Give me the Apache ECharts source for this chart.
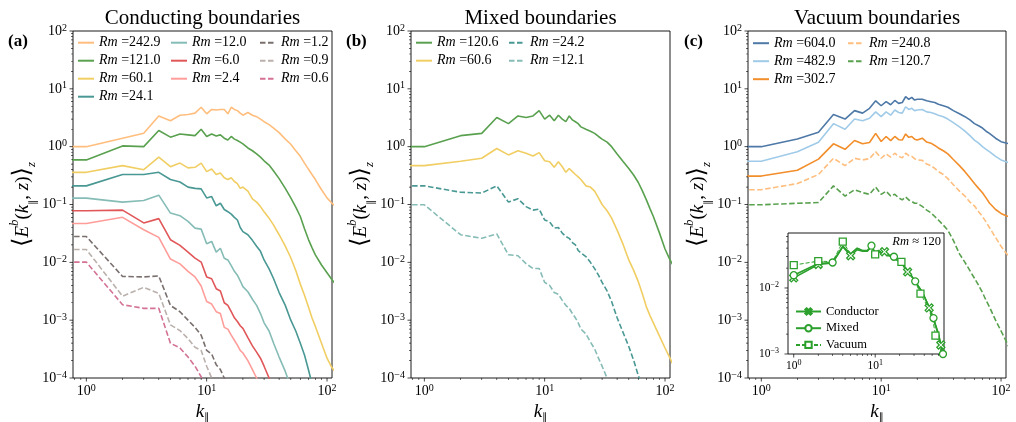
<!DOCTYPE html>
<html><head><meta charset="utf-8">
<script src="https://cdn.jsdelivr.net/npm/echarts@6/dist/echarts.min.js"></script>
<style>html,body{margin:0;padding:0;background:#fff}#c{width:1016px;height:422px}</style>
</head><body><div id="c"></div>
<script>
// ---------------- DATA ----------------
// wavenumbers k_parallel shared by all main-panel curves
const K = [0.5,1,2,3,4,5,6,7,8,9,10,11,12,13,14,15,16,17,18,19,20,22,24,26,28,30,33,36,40,45,50,55,60,65,70,75,80,90,100,110,120];

// Panel (a) Conducting boundaries
const A_RM = ['242.9','121.0','60.1','24.1','12.0','6.0','2.4','1.2','0.9','0.6'];
const A_242_9 = [1.0,1.0,1.4,1.7,3.4,2.8,3.5,3.6,3.8,4.8, 3.7,4.4,4.3,4.4,4.4,3.7,4.8,4.4,4.2,3.8, 3.5,3.9,3.5,3.3,3.0,2.7,2.4,2.1,1.75,1.35, 1.1,0.85,0.68,0.52,0.41,0.33,0.27,0.18,0.13,0.105,0.09];
const A_121_0 = [0.59,0.59,1.03,1.0,1.9,1.46,1.66,1.6,1.55,2.0, 1.5,1.66,1.53,1.6,1.4,1.3,1.5,1.35,1.28,1.2, 1.12,0.95,0.85,0.75,0.66,0.57,0.48,0.38,0.28,0.19, 0.13,0.09,0.062,0.038,0.025,0.018,0.0135,0.009,0.0066,0.005,0.004];
const A_60_1 = [0.36,0.36,0.47,0.40,0.66,0.45,0.52,0.43,0.44,0.52, 0.37,0.41,0.33,0.35,0.29,0.27,0.29,0.25,0.23,0.19, 0.2,0.17,0.125,0.11,0.092,0.075,0.058,0.044,0.03,0.019, 0.012,0.0072,0.0042,0.0027,0.0017,0.0011,0.00078,0.0004,0.00022,0.00015,0.00012];
const A_24_1 = [0.21,0.21,0.33,0.33,0.36,0.27,0.245,0.2,0.19,0.186, 0.13,0.137,0.095,0.105,0.082,0.075,0.068,0.06,0.054,0.04, 0.034,0.03,0.024,0.019,0.0155,0.011,0.0077,0.0052,0.003,0.0018, 0.001,0.00065,0.0004,0.00025,0.00014,0.00008,0.00005];
const A_12_0 = [0.129,0.129,0.11,0.117,0.145,0.071,0.064,0.051,0.039,0.0375, 0.021,0.023,0.015,0.0175,0.0118,0.011,0.0088,0.007,0.006,0.0048, 0.0038,0.0031,0.0023,0.0018,0.0013,0.0009,0.00065,0.0004,0.00023,0.00013, 0.00007];
const A_6_0 = [0.078,0.078,0.08,0.048,0.057,0.0246,0.0196,0.015,0.0118,0.0101, 0.0056,0.0052,0.0035,0.0032,0.002,0.0018,0.0014,0.0011,0.00095,0.0008, 0.00072,0.0005,0.00036,0.00028,0.00022,0.00016,0.0001,0.00007];
const A_2_4 = [0.047,0.047,0.06,0.0366,0.027,0.0114,0.0094,0.007,0.0056,0.0039, 0.0021,0.0019,0.0014,0.0013,0.00075,0.0007,0.00055,0.00045,0.00037,0.0003, 0.00027,0.0002,0.00014,0.0001,0.00007];
const A_1_2 = [0.028,0.028,0.0057,0.0056,0.0058,0.0018,0.0014,0.001,0.00075,0.00055, 0.0003,0.00026,0.00017,0.00014,0.0001,0.00007];
const A_0_9 = [0.0167,0.0167,0.0026,0.0037,0.0029,0.00083,0.00066,0.00048,0.00034,0.0003, 0.00016,0.0001,0.00007];
const A_0_6 = [0.0101,0.0101,0.00185,0.0016,0.0016,0.0004,0.00033,0.00023,0.00016,0.000105, 0.00007];

// Panel (b) Mixed boundaries
const B_RM = ['120.6','60.6','24.2','12.1'];
const B_120_6 = [1.0,1.0,1.55,1.7,3.2,2.5,3.4,3.2,3.4,4.2, 3.0,3.5,2.8,3.5,3.0,2.7,3.4,2.9,2.7,2.5, 2.2,2.0,1.85,1.7,1.5,1.35,1.2,1.0,0.75,0.55, 0.42,0.32,0.24,0.17,0.12,0.085,0.062,0.032,0.017,0.011,0.008];
const B_60_6 = [0.47,0.47,0.56,0.63,0.93,0.72,0.85,0.77,0.69,0.79, 0.57,0.55,0.44,0.55,0.45,0.36,0.42,0.37,0.33,0.3, 0.27,0.21,0.2,0.17,0.13,0.1,0.078,0.058,0.036,0.02, 0.011,0.0072,0.0046,0.0028,0.0017,0.0012,0.0009,0.00053,0.00033,0.00022,0.00015];
const B_24_2 = [0.21,0.21,0.163,0.158,0.21,0.11,0.126,0.092,0.08,0.083, 0.054,0.05,0.039,0.04,0.032,0.028,0.026,0.022,0.02,0.016, 0.0145,0.0126,0.01,0.0078,0.006,0.0045,0.0032,0.0021,0.0011,0.0006, 0.00035,0.0002,0.00011,0.00007];
const B_12_1 = [0.099,0.099,0.03,0.026,0.031,0.0135,0.013,0.0095,0.0078,0.0078, 0.0045,0.004,0.003,0.0028,0.0022,0.0018,0.0016,0.0013,0.0011,0.0009, 0.0007,0.00058,0.00042,0.00032,0.00022,0.00016,0.0001,0.00006];

// Panel (c) Vacuum boundaries
const C_RM = ['604.0','482.9','302.7','240.8','120.7'];
const C_604_0 = [1.0,1.0,1.36,1.78,3.6,3.0,4.2,3.8,4.6,6.2, 5.1,6.0,5.3,6.3,5.6,5.8,7.3,6.6,7.1,6.4, 6.6,6.6,6.2,6.0,5.8,5.4,5.1,4.8,4.2,3.7, 3.3,2.9,2.5,2.3,2.1,1.85,1.7,1.4,1.22,1.16,1.1];
const C_482_9 = [0.56,0.56,0.82,1.19,2.5,2.0,3.0,2.8,3.1,4.0, 3.3,4.0,3.5,4.3,3.9,3.8,4.9,4.4,4.6,4.2, 4.3,4.4,4.0,3.9,3.7,3.5,3.3,3.0,2.6,2.2, 1.85,1.55,1.3,1.15,1.0,0.9,0.82,0.68,0.59,0.55,0.52];
const C_302_7 = [0.31,0.31,0.39,0.61,1.12,0.9,1.28,1.12,1.18,1.7, 1.23,1.5,1.27,1.5,1.32,1.3,1.66,1.45,1.5,1.35, 1.3,1.4,1.2,1.15,1.05,0.95,0.85,0.75,0.6,0.47, 0.37,0.29,0.23,0.19,0.16,0.13,0.106,0.082,0.07,0.064,0.06];
const C_240_8 = [0.18,0.18,0.23,0.33,0.63,0.47,0.63,0.59,0.62,0.82, 0.63,0.75,0.66,0.77,0.68,0.64,0.77,0.7,0.68,0.62, 0.59,0.58,0.5,0.47,0.42,0.37,0.33,0.28,0.22,0.17, 0.14,0.11,0.095,0.075,0.062,0.05,0.04,0.027,0.019,0.0145,0.012];
const C_120_7 = [0.099,0.099,0.105,0.108,0.21,0.14,0.18,0.16,0.15,0.2, 0.15,0.17,0.14,0.15,0.13,0.12,0.135,0.12,0.113,0.105, 0.105,0.093,0.08,0.072,0.062,0.054,0.044,0.036,0.024,0.014, 0.01,0.0072,0.0053,0.004,0.003,0.0022,0.0017,0.001,0.00065,0.00044,0.0003];

// Inset (Rm ~ 120)
const K_IN = [1,2,3,4,5,6,7,8,9,10,11,12,13,14,16,17,18,20,21,22,25,28,31,36,40,46,52,55,60,64,68,72,76];
const IN_NAMES = ['Conductor','Mixed','Vacuum'];
const IN_COND = [0.0142,0.0227,0.024,0.042,0.0308,0.038,0.036,0.036,0.042,0.034,0.037,0.034,0.0354,0.032,0.031,0.029,0.027,0.025,0.024,0.022,0.0175,0.015,0.0125,0.0095,0.0075,0.005,0.0033,0.0027,0.0019,0.00137,0.001,0.0008,0.0006];
const IN_MIX = [0.0156,0.0235,0.0243,0.043,0.033,0.04,0.037,0.037,0.0437,0.034,0.036,0.033,0.034,0.031,0.03,0.0297,0.028,0.025,0.024,0.022,0.018,0.015,0.0126,0.0095,0.0075,0.0052,0.0035,0.0028,0.002,0.0014,0.001,0.0008,0.0006];
const IN_VAC = [0.0222,0.0255,0.025,0.0502,0.033,0.04,0.037,0.037,0.042,0.0322,0.035,0.033,0.034,0.031,0.03,0.029,0.028,0.026,0.0249,0.023,0.019,0.0155,0.0125,0.0082,0.0065,0.0046,0.0029,0.0019,0.0015,0.0011,0.0008,0.0006,0.0005];
const IN_COND_MARKS = [1,2,5,13,25,46,64];
const IN_MIX_MARKS = [1,3,9,17,31,52,68];
const IN_VAC_MARKS = [1,2,4,10,21,36,55];

// axis ranges and tick values
const X_RANGE = [0.775, 110];
const Y_RANGE = [1e-4, 100];
const XIN_RANGE = [0.85, 70];
const YIN_RANGE = [1e-3, 0.068];
const MAJOR_X = [1,10,100];
const MINOR_X = [0.8,0.9,2,3,4,5,6,7,8,9,20,30,40,50,60,70,80,90];
const MAJOR_Y = [1e-4,1e-3,1e-2,1e-1,1,10,100];
const MINOR_Y = [];
[1e-4,1e-3,1e-2,1e-1,1,10].forEach(d => { for (let m = 2; m <= 9; m++) MINOR_Y.push(+(d*m).toPrecision(3)); });
const MAJOR_X_IN = [1,10];
const MINOR_X_IN = [2,3,4,5,6,7,8,9,20,30,40,50,60];
const MAJOR_Y_IN = [1e-3,1e-2];
const MINOR_Y_IN = [0.002,0.003,0.004,0.005,0.006,0.007,0.008,0.009,0.02,0.03,0.04,0.05,0.06];

const TITLES = ['Conducting boundaries','Mixed boundaries','Vacuum boundaries'];
const PANEL_TAGS = ['(a)','(b)','(c)'];

// ---------------- STYLE ----------------
const FONT = "'Liberation Serif','DejaVu Serif',serif";
const T = {
  blue:'#4E79A7', lblue:'#A0CBE8', orange:'#F28E2B', lorange:'#FFBE7D',
  green:'#59A14F', yellow:'#F1CE63', teal:'#499894', lteal:'#86BCB6',
  red:'#E15759', pink:'#FF9D9A', gray:'#79706E', lgray:'#BAB0AC', dpink:'#D37295'
};
const GREEN_IN = '#2ca02c';
const GRIDS = [
  {left:73, top:31, width:259, height:347},
  {left:411, top:31, width:259, height:347},
  {left:748, top:31, width:258, height:347},
  {left:788, top:233, width:156, height:121}
];

function powFmt(v) {
  const e = Math.log10(v), r = Math.round(e);
  if (Math.abs(e - r) > 1e-3) return '';
  return '{b|10}{s|' + String(r).replace('-', '\u2212') + '}';
}
function richLab(b, s) {
  return {
    b:{fontFamily:FONT, fontSize:b, lineHeight:b+2, color:'#000'},
    s:{fontFamily:FONT, fontSize:s, lineHeight:Math.round(b*0.55), verticalAlign:'top', color:'#000'}
  };
}
const nameRich = {
  br:{fontFamily:"'DejaVu Serif',serif", fontSize:24, lineHeight:30, color:'#000'},
  i:{fontFamily:FONT, fontStyle:'italic', fontSize:19, lineHeight:30, color:'#000'},
  n:{fontFamily:FONT, fontSize:19, lineHeight:30, color:'#000'},
  sup:{fontFamily:FONT, fontStyle:'italic', fontSize:13, lineHeight:18, verticalAlign:'top', color:'#000'},
  sub:{fontFamily:"'DejaVu Sans',sans-serif", fontSize:10, lineHeight:17, verticalAlign:'bottom', color:'#000'},
  subz:{fontFamily:FONT, fontStyle:'italic', fontSize:13, lineHeight:16, verticalAlign:'bottom', color:'#000'}
};
const xNameRich = {
  i:{fontFamily:FONT, fontStyle:'italic', fontSize:19, lineHeight:20, color:'#000'},
  sub:{fontFamily:"'DejaVu Sans',sans-serif", fontSize:10, lineHeight:11, verticalAlign:'bottom', color:'#000'}
};
const YNAME = '{br|\u27E8}{i|E}{sup|b}{n|(}{i|k}{sub|\u2225}{n|, }{i|z}{n|)}{br|\u27E9}{subz|z}';
const XNAME = '{i|k}{sub|\u2225}';

const xAxes = [], yAxes = [];
for (let g = 0; g < 3; g++) {
  xAxes.push({type:'log', logBase:10, gridIndex:g, min:X_RANGE[0], max:X_RANGE[1],
    axisLine:{show:false}, axisTick:{show:false}, splitLine:{show:false},
    axisLabel:{formatter:powFmt, margin:5, rich:richLab(14,10)},
    name:XNAME, nameLocation:'middle', nameGap:22, nameTextStyle:{rich:xNameRich}});
  yAxes.push({type:'log', logBase:10, gridIndex:g, min:Y_RANGE[0], max:Y_RANGE[1],
    axisLine:{show:false}, axisTick:{show:false}, splitLine:{show:false},
    axisLabel:{formatter:powFmt, margin:6, rich:richLab(14,10)},
    name:YNAME, nameLocation:'middle', nameRotate:90, nameGap:35, nameTextStyle:{rich:nameRich}});
}
xAxes.push({type:'log', logBase:10, gridIndex:3, min:XIN_RANGE[0], max:XIN_RANGE[1],
  axisLine:{show:false}, axisTick:{show:false}, splitLine:{show:false},
  axisLabel:{formatter:powFmt, margin:5, rich:richLab(11.5,8)}});
yAxes.push({type:'log', logBase:10, gridIndex:3, min:YIN_RANGE[0], max:YIN_RANGE[1],
  axisLine:{show:false}, axisTick:{show:false}, splitLine:{show:false},
  axisLabel:{formatter:powFmt, margin:9, rich:richLab(11.5,8)}});

const series = [];
function addLine(g, rm, vals, color, dashed) {
  series.push({type:'line', name:'Rm =' + rm, xAxisIndex:g, yAxisIndex:g,
    data: vals.map((v, j) => [K[j], v]), symbol:'none', showSymbol:false,
    lineStyle:{color:color, width:1.6, type: dashed ? [5.5, 2.5] : 'solid'},
    itemStyle:{color:color}, animation:false, silent:true, z:3, clip:true});
}
addLine(0, A_RM[0], A_242_9, T.lorange, false);
addLine(0, A_RM[1], A_121_0, T.green, false);
addLine(0, A_RM[2], A_60_1, T.yellow, false);
addLine(0, A_RM[3], A_24_1, T.teal, false);
addLine(0, A_RM[4], A_12_0, T.lteal, false);
addLine(0, A_RM[5], A_6_0, T.red, false);
addLine(0, A_RM[6], A_2_4, T.pink, false);
addLine(0, A_RM[7], A_1_2, T.gray, true);
addLine(0, A_RM[8], A_0_9, T.lgray, true);
addLine(0, A_RM[9], A_0_6, T.dpink, true);
addLine(1, B_RM[0], B_120_6, T.green, false);
addLine(1, B_RM[1], B_60_6, T.yellow, false);
addLine(1, B_RM[2], B_24_2, T.teal, true);
addLine(1, B_RM[3], B_12_1, T.lteal, true);
addLine(2, C_RM[0], C_604_0, T.blue, false);
addLine(2, C_RM[1], C_482_9, T.lblue, false);
addLine(2, C_RM[2], C_302_7, T.orange, false);
addLine(2, C_RM[3], C_240_8, T.lorange, true);
addLine(2, C_RM[4], C_120_7, T.green, true);

const X_SYM = 'path://M2,0 L5,3 L8,0 L10,2 L7,5 L10,8 L8,10 L5,7 L2,10 L0,8 L3,5 L0,2 Z';
function addInset(name, vals, marks, symbol, size, width, dashed) {
  series.push({type:'line', name:name, xAxisIndex:3, yAxisIndex:3,
    data: K_IN.map((k, j) => marks.indexOf(k) >= 0 ? {value:[k, vals[j]]} : {value:[k, vals[j]], symbol:'none'}),
    symbol:symbol, symbolSize:size, showSymbol:true, showAllSymbol:true,
    lineStyle:{color:GREEN_IN, width:width, type: dashed ? [4, 2] : 'solid'},
    itemStyle:{color:'#fff', borderColor:GREEN_IN, borderWidth:1.3},
    animation:false, silent:true, z:6, clip:true});
}
addInset(IN_NAMES[0], IN_COND, IN_COND_MARKS, X_SYM, 8, 1.6, false);
addInset(IN_NAMES[1], IN_MIX, IN_MIX_MARKS, 'circle', 7, 1.6, false);
addInset(IN_NAMES[2], IN_VAC, IN_VAC_MARKS, 'rect', 7, 1.0, true);

// tick marks drawn through the axes' own scales
function addTicks(g, xs, ys, xAt, yAt) {
  const mk = (data, size, off) => series.push({type:'scatter', xAxisIndex:g, yAxisIndex:g, data:data,
    symbol:'rect', symbolSize:size, symbolOffset:off, itemStyle:{color:'#000'},
    silent:true, clip:false, animation:false, z:8});
  mk(xs.major.map(v => [v, yAt]), [0.9, 3.5], [0, 1.75]);
  mk(xs.minor.map(v => [v, yAt]), [0.7, 2], [0, 1]);
  mk(ys.major.map(v => [xAt, v]), [3.5, 0.9], [-1.75, 0]);
  mk(ys.minor.map(v => [xAt, v]), [2, 0.7], [-1, 0]);
}
for (let g = 0; g < 3; g++) addTicks(g, {major:MAJOR_X, minor:MINOR_X}, {major:MAJOR_Y, minor:MINOR_Y}, X_RANGE[0], Y_RANGE[0]);
addTicks(3, {major:MAJOR_X_IN, minor:MINOR_X_IN}, {major:MAJOR_Y_IN, minor:MINOR_Y_IN}, XIN_RANGE[0], YIN_RANGE[0]);

function rmFmt(n) { return '{i|Rm} {r|' + n.slice(3) + '}'; }
const legRich = {
  i:{fontFamily:FONT, fontStyle:'italic', fontSize:14, lineHeight:14, color:'#000'},
  r:{fontFamily:FONT, fontSize:14, lineHeight:14, color:'#000'}
};
function legendCol(left, top, names) {
  return {orient:'vertical', left:left, top:top, padding:0, itemGap:4, itemWidth:16, itemHeight:10,
    selectedMode:false, data:names, formatter:rmFmt,
    itemStyle:{color:'rgba(0,0,0,0)', borderColor:'rgba(0,0,0,0)', borderWidth:0},
    textStyle:{fontFamily:FONT, fontSize:14, lineHeight:14, color:'#000', rich:legRich}};
}
const nm = arr => arr.map(r => 'Rm =' + r);
const legends = [
  legendCol(77, 35.7, nm(A_RM.slice(0,4))),
  legendCol(170, 35.7, nm(A_RM.slice(4,7))),
  legendCol(259, 35.7, nm(A_RM.slice(7,10))),
  legendCol(415, 35.7, nm(B_RM.slice(0,2))),
  legendCol(508, 35.7, nm(B_RM.slice(2,4))),
  legendCol(752, 36.2, nm(C_RM.slice(0,3))),
  legendCol(847, 36.2, nm(C_RM.slice(3,5))),
  {orient:'vertical', left:795, top:305, padding:0, itemGap:3.7, itemWidth:25, itemHeight:8,
    selectedMode:false, data:IN_NAMES,
    textStyle:{fontFamily:FONT, fontSize:12.5, lineHeight:12, color:'#000'}}
];

const graphics = [];
const centers = GRIDS.slice(0,3).map(g => g.left + g.width/2);
TITLES.forEach((t, i) => graphics.push({type:'text', x:centers[i], y:18, silent:true,
  style:{text:t, font:"21px 'Liberation Serif', serif", fill:'#000', align:'center', verticalAlign:'middle', textAlign:'center', textVerticalAlign:'middle'}}));
[8, 346, 684].forEach((x, i) => graphics.push({type:'text', x:x, y:42, silent:true,
  style:{text:PANEL_TAGS[i], font:"bold 17px 'Liberation Serif', serif", fill:'#000', align:'left', verticalAlign:'middle', textAlign:'left', textVerticalAlign:'middle'}}));
graphics.push({type:'text', x:941, y:242, silent:true, z:10,
  style:{text:'{i|Rm} {r|\u2248 120}', rich:{i:{font:"italic 12.5px 'Liberation Serif', serif", fill:'#000'}, r:{font:"12.5px 'Liberation Serif', serif", fill:'#000'}},
    align:'right', verticalAlign:'middle', textAlign:'right', textVerticalAlign:'middle'}});

const option = {
  animation:false,
  backgroundColor:'#fff',
  textStyle:{fontFamily:FONT},
  grid: GRIDS.map((g, i) => Object.assign({show:true, borderColor:'#000', borderWidth:0.9,
    backgroundColor: i === 3 ? '#fff' : 'transparent', containLabel:false, outerBoundsMode:'none'}, g)),
  xAxis:xAxes, yAxis:yAxes,
  legend:legends,
  series:series,
  graphic:graphics
};
const chart = echarts.init(document.getElementById('c'), null, {renderer:'canvas'});
chart.setOption(option);
</script></body></html>
